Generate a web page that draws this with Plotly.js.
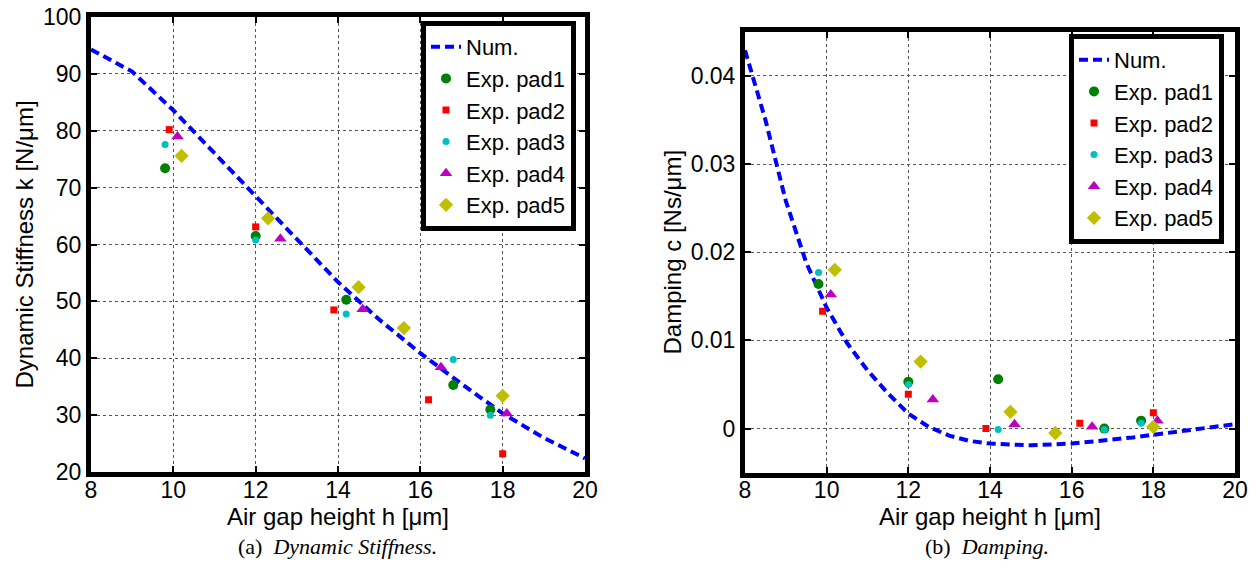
<!DOCTYPE html>
<html>
<head>
<meta charset="utf-8">
<script src="https://cdn.plot.ly/plotly-3.0.1.min.js"></script>
<style>html,body{margin:0;padding:0;background:#fff;}#chart{width:1260px;height:578px;}</style>
</head>
<body>
<div id="chart"></div>
<script>
// ---- Data ----
const numH = [8, 9, 10, 11, 12, 13, 14, 15, 16, 17, 18, 19, 20];
const numK = [94.3, 90.4, 83.6, 76.0, 68.6, 60.8, 53.4, 46.8, 40.9, 35.5, 30.3, 26.0, 22.4];

const numHc = [8, 8.5, 9, 9.5, 10, 10.5, 11, 11.5, 12, 12.5, 13, 13.5, 14, 15, 16, 16.5, 17, 17.5, 18, 19, 20];
const numC  = [0.0429, 0.0350, 0.0258, 0.0188, 0.0137, 0.0097, 0.0066, 0.0040, 0.0017, 0.0002, -0.0008, -0.0014, -0.0017, -0.0019, -0.0017, -0.0015, -0.0012, -0.0010, -0.0007, -0.0001, 0.0005];

const pad1H = [9.8, 12.0, 14.2, 16.8, 17.7];
const pad1K = [73.4, 61.5, 50.3, 35.3, 31.0];
const pad2H = [9.9, 12.0, 13.9, 16.2, 18.0];
const pad2K = [80.2, 63.1, 48.5, 32.7, 23.2];
const pad3H = [9.8, 12.0, 14.2, 16.8, 17.7];
const pad3K = [77.6, 60.8, 47.8, 39.8, 30.0];
const pad4H = [10.1, 12.6, 14.6, 16.5, 18.1];
const pad4K = [79.0, 61.0, 48.6, 38.4, 30.3];
const pad5H = [10.2, 12.3, 14.5, 15.6, 18.0];
const pad5K = [75.6, 64.6, 52.5, 45.3, 33.4];

const pad1C = [0.0164, 0.0053, 0.0056, 0.0000, 0.0009];
const pad2C = [0.0133, 0.0039, 0.0000, 0.0006, 0.0018];
const pad3C = [0.0177, 0.0050, -0.0001, -0.0001, 0.0006];
const pad4C = [0.0152, 0.0033, 0.0005, 0.0002, 0.0009];
const pad5C = [0.0180, 0.0076, 0.0019, -0.0005, 0.0002];

const seriesNames = ["Num.", "Exp. pad1", "Exp. pad2", "Exp. pad3", "Exp. pad4", "Exp. pad5"];
const xTicks = [8, 10, 12, 14, 16, 18, 20];
const kTicks = [20, 30, 40, 50, 60, 70, 80, 90, 100];
const cTicks = [0, 0.01, 0.02, 0.03, 0.04];

// ---- Styles ----
const colors = ["#0000ff", "#008000", "#ff0000", "#00bfbf", "#bf00bf", "#bfbf00"];
const symbols = [null, "circle", "square", "circle", "triangle-up", "diamond"];
const sizes = [0, 10, 7, 7, 11, 11];

function mk(i, x, y, xa, ya, leg) {
  if (i === 0) {
    return {x: x, y: y, xaxis: xa, yaxis: ya, legend: leg, name: seriesNames[0], mode: "lines",
      line: {color: colors[0], width: 4, dash: "9px,5px"}};
  }
  return {x: x, y: y, xaxis: xa, yaxis: ya, legend: leg, name: seriesNames[i], mode: "markers",
    marker: {color: colors[i], symbol: symbols[i], size: sizes[i], line: {width: 0}}};
}

const data = [
  mk(0, numH, numK, "x", "y", "legend"),
  mk(1, pad1H, pad1K, "x", "y", "legend"),
  mk(2, pad2H, pad2K, "x", "y", "legend"),
  mk(3, pad3H, pad3K, "x", "y", "legend"),
  mk(4, pad4H, pad4K, "x", "y", "legend"),
  mk(5, pad5H, pad5K, "x", "y", "legend"),
  mk(0, numHc, numC, "x2", "y2", "legend2"),
  mk(1, pad1H, pad1C, "x2", "y2", "legend2"),
  mk(2, pad2H, pad2C, "x2", "y2", "legend2"),
  mk(3, pad3H, pad3C, "x2", "y2", "legend2"),
  mk(4, pad4H, pad4C, "x2", "y2", "legend2"),
  mk(5, pad5H, pad5C, "x2", "y2", "legend2")
];

const W = 1260, H = 578;
const font = {family: "Liberation Sans, Arial, sans-serif", size: 23, color: "#000"};
const titleFont = {family: "Liberation Sans, Arial, sans-serif", size: 24, color: "#000"};
function ax(extra) {
  return Object.assign({
    showline: true, linecolor: "#000", linewidth: 5, mirror: "ticks",
    ticks: "inside", ticklen: 6, tickwidth: 2, tickcolor: "#000",
    showgrid: true, gridcolor: "#555", gridwidth: 1, griddash: "dot",
    zeroline: false, tickfont: font, fixedrange: true
  }, extra);
}

const legendBase = {
  bgcolor: "#fff", bordercolor: "#000", borderwidth: 5,
  font: {family: "Liberation Sans, Arial, sans-serif", size: 22, color: "#000"},
  xanchor: "left", yanchor: "top", itemwidth: 30, tracegroupgap: 0
};

const layout = {
  width: W, height: H,
  margin: {l: 0, r: 0, t: 0, b: 0},
  paper_bgcolor: "#fff", plot_bgcolor: "#fff",
  showlegend: true,
  xaxis: ax({domain: [91 / W, 585 / W], range: [8, 20], tickvals: xTicks, anchor: "y", ticklabelstandoff: -7,
    title: {text: "Air gap height h [\u03bcm]", font: titleFont, standoff: 0}}),
  yaxis: ax({domain: [1 - 472 / H, 1 - 17 / H], range: [20, 100], tickvals: kTicks, anchor: "x",
    title: {text: "Dynamic Stiffness k [N/\u03bcm]", font: titleFont, standoff: 4}}),
  xaxis2: ax({domain: [745 / W, 1235 / W], range: [8, 20], tickvals: xTicks, anchor: "y2", ticklabelstandoff: -7,
    title: {text: "Air gap height h [\u03bcm]", font: titleFont, standoff: 0}}),
  yaxis2: ax({domain: [1 - 472.7 / H, 1 - 31.7 / H], range: [-0.005, 0.045], tickvals: cTicks, anchor: "x2",
    title: {text: "Damping c [Ns/\u03bcm]", font: titleFont, standoff: 4}}),
  legend: Object.assign({}, legendBase, {x: 421 / W, y: 1 - 21 / H}),
  legend2: Object.assign({}, legendBase, {x: 1069 / W, y: 1 - 34 / H}),
  annotations: [
    {xref: "paper", yref: "paper", x: 337 / W, y: 1 - 546 / H, xanchor: "center", yanchor: "middle", showarrow: false,
      text: "(a)  <i>Dynamic Stiffness.</i>", font: {family: "Liberation Serif, Times New Roman, serif", size: 22, color: "#000"}},
    {xref: "paper", yref: "paper", x: 987 / W, y: 1 - 546 / H, xanchor: "center", yanchor: "middle", showarrow: false,
      text: "(b)  <i>Damping.</i>", font: {family: "Liberation Serif, Times New Roman, serif", size: 22, color: "#000"}}
  ]
};

Plotly.newPlot("chart", data, layout, {staticPlot: true});
</script>
</body>
</html>
